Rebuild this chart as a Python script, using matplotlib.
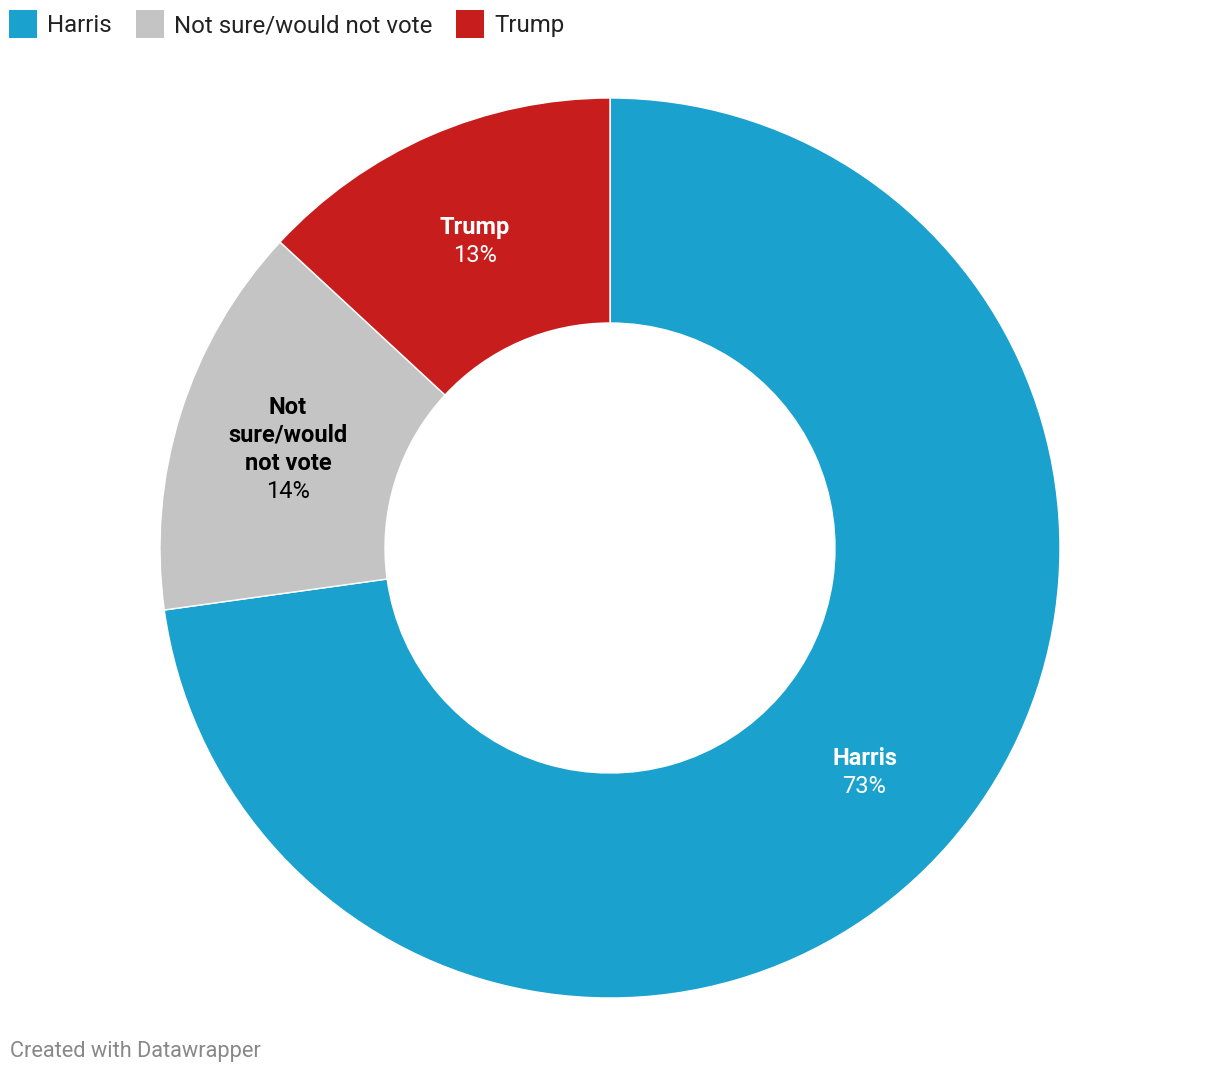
import matplotlib
matplotlib.use('Agg')
import matplotlib.pyplot as plt
from matplotlib.patches import Rectangle
import numpy as np

plt.rcParams['font.family'] = ['Roboto', 'DejaVu Sans']

# data (shares; labels show rounded values)
categories = ['Harris', 'Not sure/would not vote', 'Trump']
inner_labels = ['Harris', 'Not\nsure/would\nnot vote', 'Trump']
shares = [72.8, 14.1, 13.1]
colors = ['#1aa1ce', '#c4c4c4', '#c71e1d']
text_colors = ['white', 'black', 'white']

W, H = 1220, 1074
fig = plt.figure(figsize=(W / 100, H / 100), dpi=100)
fig.patch.set_facecolor('white')

# donut: center (610, 548) px, radius 450 px
cx, cy, R = 610, 548, 450
ax = fig.add_axes([(cx - R) / W, (H - cy - R) / H, 2 * R / W, 2 * R / H])
wedges, _ = ax.pie(shares, colors=colors, startangle=90, counterclock=False,
                   radius=1, wedgeprops=dict(width=0.5, edgecolor='white', linewidth=1))
ax.set_xlim(-1, 1)
ax.set_ylim(-1, 1)
ax.set_aspect('equal')
ax.axis('off')

# labels at middle of ring
line_h = 28 / R
fs_lab = 17
for w, lab, val, tc in zip(wedges, inner_labels, shares, text_colors):
    mid = np.deg2rad((w.theta1 + w.theta2) / 2)
    x, y = 0.75 * np.cos(mid), 0.75 * np.sin(mid) - 2.5 / R
    lines = lab.split('\n')
    n = len(lines) + 1
    top = y + (n - 1) / 2 * line_h
    for i, ln in enumerate(lines):
        ax.text(x, top - i * line_h, ln, ha='center', va='center', color=tc,
                fontsize=fs_lab, fontweight='bold')
    ax.text(x, top - len(lines) * line_h, f'{val:.0f}%', ha='center', va='center',
            color=tc, fontsize=fs_lab)

# legend
fig.canvas.draw()
renderer = fig.canvas.get_renderer()
xpos = 9
sq = 28
for cat, col in zip(categories, colors):
    fig.patches.append(Rectangle((xpos / W, (H - 10 - sq) / H), sq / W, sq / H,
                                 transform=fig.transFigure, facecolor=col, edgecolor='none'))
    t = fig.text((xpos + sq + 10) / W, (H - 25.5) / H, cat, ha='left', va='center',
                 fontsize=17.3, color='#222222')
    bb = t.get_window_extent(renderer=renderer)
    xpos = bb.x1 + 24

fig.text(10 / W, (H - 1052) / H, 'Created with Datawrapper', ha='left', va='center',
         fontsize=15.7, color='#888888')

plt.savefig('out.png', dpi=100, facecolor='white')
plt.close()
